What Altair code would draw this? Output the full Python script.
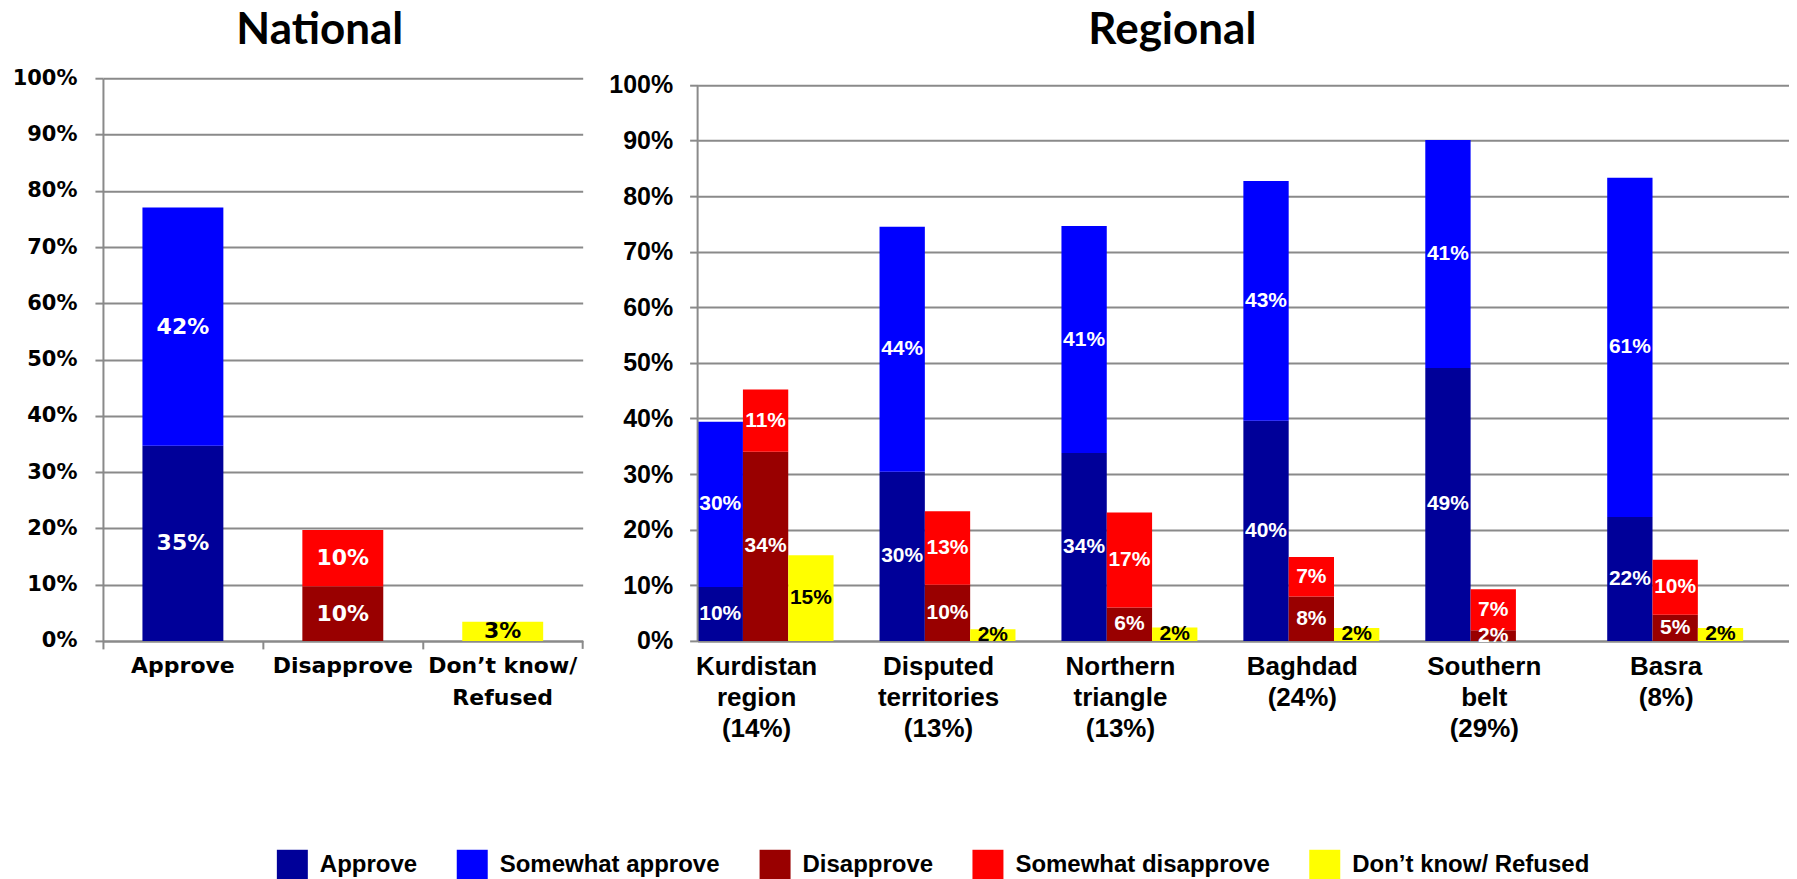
import altair as alt
import pandas as pd

# ---------------- data ----------------
series = ["Approve", "Somewhat approve", "Disapprove", "Somewhat disapprove", "Don’t know/ Refused"]
colors = ["#000099", "#0000FF", "#990000", "#FF0000", "#FFFF00"]
series_group = ["approve", "approve", "disapprove", "disapprove", "dk"]
groups = ["approve", "disapprove", "dk"]
panel_titles = ["National", "Regional"]

# National
national_cats = ["Approve", "Disapprove", "Don’t know/ Refused"]
national_values = [34.7, 42.3, 9.7, 10.0, 3.4]  # one per series

# Regional
regions = ["Kurdistan region", "Disputed territories", "Northern triangle", "Baghdad", "Southern belt", "Basra"]
region_shares = ["14%", "13%", "13%", "24%", "29%", "8%"]
reg_approve = [9.7, 30.4, 33.8, 39.6, 49.1, 22.3]
reg_somewhat_approve = [29.7, 44.1, 40.8, 43.1, 41.0, 61.0]
reg_disapprove = [34.0, 10.1, 6.0, 8.0, 1.9, 4.7]
reg_somewhat_disapprove = [11.2, 13.2, 17.1, 7.1, 7.4, 9.9]
reg_dk = [15.4, 2.1, 2.4, 2.3, 0.0, 2.3]

# ---------------- tables ----------------
nat_rows = []
for i, s in enumerate(series):
    nat_rows.append({"cat": national_cats[groups.index(series_group[i])], "series": s,
                     "grp": series_group[i], "sidx": i, "value": national_values[i]})
nat_df = pd.DataFrame(nat_rows)

region_labels = [f"{r} ({p})" for r, p in zip(regions, region_shares)]
reg_series_values = [reg_approve, reg_somewhat_approve, reg_disapprove, reg_somewhat_disapprove, reg_dk]
reg_rows = []
for i, s in enumerate(series):
    for j, lab in enumerate(region_labels):
        reg_rows.append({"region": lab, "series": s, "grp": series_group[i], "sidx": i,
                         "value": reg_series_values[i][j]})
reg_df = pd.DataFrame(reg_rows)

GRID = "#8a8a8a"
WIDE = "DejaVu Sans"
ARIAL = "Liberation Sans"
TITLE_FONT = "Lato"

color_enc = alt.Color("series:N", scale=alt.Scale(domain=series, range=colors),
                      legend=alt.Legend(title=None))


def y_enc(font, size, pad, top, domain_line):
    return alt.Y("y0:Q", scale=alt.Scale(domain=[0, top], nice=False, zero=True),
                 axis=alt.Axis(values=list(range(0, 101, 10)), labelExpr="datum.value + '%'",
                               grid=True, gridColor=GRID, gridWidth=2,
                               domain=domain_line, domainColor=GRID, domainWidth=2,
                               tickColor=GRID, tickWidth=2, tickSize=8,
                               labelFont=font, labelFontSize=size, labelFontWeight="bold",
                               labelColor="black", labelPadding=pad, title=None))


def title_mark(text, xpos):
    return alt.Chart(alt.Data(values=[{"t": text}])).mark_text(
        font=TITLE_FONT, fontSize=44, fontWeight="bold", color="black",
        align="center", baseline="alphabetic").encode(
        text="t:N", x=alt.value(xpos), y=alt.value(-34.3))


# ---------------- national ----------------
NW, NH = 480, 563
nat_base = alt.Chart(nat_df).transform_stack(
    stack="value", groupby=["cat"], sort=[alt.SortField("sidx")], as_=["y0", "y1"]
).transform_calculate(mid="(datum.y0 + datum.y1) / 2", lbl="format(datum.value, '.0f') + '%'")

nat_x = alt.X("cat:N", sort=national_cats,
              scale=alt.Scale(domain=national_cats, paddingInner=0, paddingOuter=0),
              axis=alt.Axis(bandPosition=0, ticks=True, tickSize=8, tickColor=GRID, tickWidth=2,
                            domainColor=GRID, domainWidth=2, labelAngle=0,
                            labelFont=WIDE, labelFontSize=22, labelFontWeight="bold",
                            labelColor="black", labelPadding=7, labelLineHeight=32,
                            labelBaseline="top", labelLimit=400,
                            labelExpr="split(replace(datum.label, '/ ', '/|'), '|')", title=None))

nat_bars = nat_base.mark_bar(width=alt.RelativeBandSize(0.506)).encode(
    x=nat_x, y=y_enc(WIDE, 21, 18, 100, True), y2="y1:Q", color=color_enc)
nat_text_w = nat_base.transform_filter("datum.grp != 'dk'").mark_text(
    font=WIDE, fontSize=22, fontWeight="bold", color="white", baseline="middle").encode(
    x=alt.X("cat:N", sort=national_cats), y="mid:Q", text="lbl:N")
nat_text_k = nat_base.transform_filter("datum.grp == 'dk' && datum.value >= 1").mark_text(
    font=WIDE, fontSize=22, fontWeight="bold", color="black", baseline="middle").encode(
    x=alt.X("cat:N", sort=national_cats), y="mid:Q", text="lbl:N")
nat_end_tick = alt.Chart(alt.Data(values=[{}])).mark_rule(color=GRID, strokeWidth=2).encode(
    x=alt.value(NW), y=alt.value(NH), y2=alt.value(NH + 8))

national = alt.layer(nat_bars, nat_text_w, nat_text_k, nat_end_tick,
                     title_mark(panel_titles[0], NW / 2 - 23)).properties(width=NW, height=NH)

# ---------------- regional ----------------
RW, RH = 1092, 563
REG_TOP = 101.2  # regional plot starts a little lower than the national one
reg_base = alt.Chart(reg_df).transform_stack(
    stack="value", groupby=["region", "grp"], sort=[alt.SortField("sidx")], as_=["y0", "y1"]
).transform_calculate(mid="(datum.y0 + datum.y1) / 2", lbl="format(datum.value, '.0f') + '%'")

reg_x = alt.X("region:N", sort=region_labels,
              scale=alt.Scale(domain=region_labels, paddingInner=0.2527, paddingOuter=0.126, align=0),
              axis=alt.Axis(ticks=False, tickSize=0, domainColor=GRID, domainWidth=2, labelAngle=0,
                            labelFont=ARIAL, labelFontSize=26, labelFontWeight="bold",
                            labelColor="black", labelPadding=13, labelLineHeight=31,
                            labelBaseline="top", labelLimit=400, labelOffset=-9,
                            labelExpr="split(datum.label, ' ')", title=None))
reg_xoff = alt.XOffset("grp:N", sort=groups,
                       scale=alt.Scale(domain=groups, paddingInner=0, paddingOuter=0))

reg_bars = reg_base.mark_bar().encode(
    x=reg_x, xOffset=reg_xoff, y=y_enc(ARIAL, 25, 17, REG_TOP, False), y2="y1:Q", color=color_enc)
reg_text_w = reg_base.transform_filter("datum.grp != 'dk'").mark_text(
    font=ARIAL, fontSize=21, fontWeight="bold", color="white", baseline="middle").encode(
    x=alt.X("region:N", sort=region_labels), xOffset=reg_xoff, y="mid:Q", text="lbl:N")
reg_text_k = reg_base.transform_filter("datum.grp == 'dk' && datum.value >= 1").mark_text(
    font=ARIAL, fontSize=21, fontWeight="bold", color="black", baseline="middle").encode(
    x=alt.X("region:N", sort=region_labels), xOffset=reg_xoff, y="mid:Q", text="lbl:N")
reg_axis_line = alt.Chart(alt.Data(values=[{}])).mark_rule(color=GRID, strokeWidth=2).encode(
    x=alt.value(0), y=alt.datum(0), y2=alt.datum(100))

regional = alt.layer(reg_bars, reg_text_w, reg_text_k, reg_axis_line,
                     title_mark(panel_titles[1], RW / 2 - 71)).properties(width=RW, height=RH)

chart = alt.hconcat(national, regional, spacing=25).properties(
    padding={"left": 4, "top": 0, "right": 0, "bottom": 0}
).configure_view(stroke=None).configure_legend(
    orient="none", direction="horizontal", legendX=174, legendY=772,
    symbolType="square", symbolSize=961, symbolStrokeWidth=0, symbolOpacity=1,
    labelFont=ARIAL, labelFontSize=24, labelFontWeight="bold", labelColor="black",
    labelOffset=12, columnPadding=39, labelLimit=400, labelBaseline="middle"
)

chart.save("out.html", embed_options={"renderer": "svg", "actions": False})
